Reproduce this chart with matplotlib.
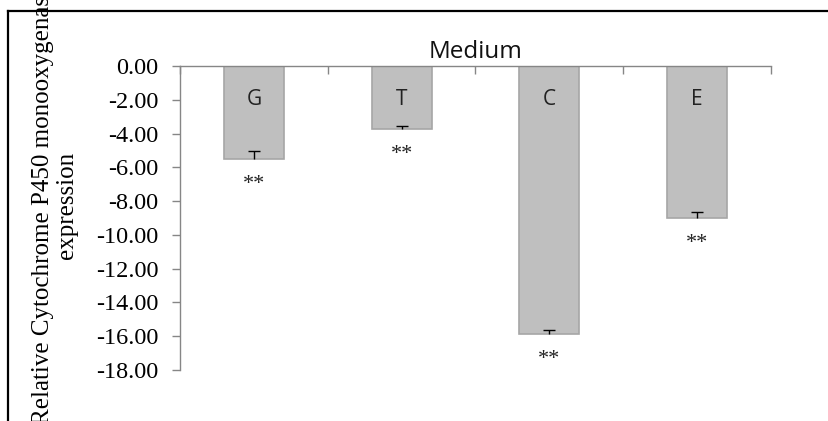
import matplotlib
matplotlib.use("Agg")
import matplotlib.pyplot as plt
from matplotlib.lines import Line2D
import numpy as np

plt.rcParams['axes.unicode_minus'] = False

# data
groups = ['G', 'T', 'C', 'E']
values = [-5.50, -3.72, -15.85, -9.00]
errors = [0.47, 0.18, 0.24, 0.35]
signif = ['**', '**', '**', '**']
yticks = [0, -2, -4, -6, -8, -10, -12, -14, -16, -18]

fig = plt.figure(figsize=(8.29, 4.21), dpi=100)
ax = fig.add_axes([180/829, 1 - 370/421, (771 - 180)/829, (370 - 66)/421])

x = np.arange(len(groups))
vals = np.array(values)
errs = np.array(errors)
ax.bar(x, vals, width=0.405, color='#bfbfbf', edgecolor='#a6a6a6', linewidth=1.2, zorder=2)

# error bars only toward zero, cap on the top end only
ax.vlines(x, vals, vals + errs, color='black', linewidth=1.0, zorder=3)
ax.hlines(vals + errs, x - 0.04, x + 0.04, color='black', linewidth=1.0, zorder=3)

for i, (v, g, s) in enumerate(zip(values, groups, signif)):
    ax.text(i, -2, g, ha='center', va='center', fontsize=15,
            family='Open Sans', color='#222222')
    ax.text(i, v - 1.5, s, ha='center', va='center', fontsize=16,
            family='Liberation Serif', color='#222222')

ax.set_xlim(-0.5, len(groups) - 0.5)
ax.set_ylim(-18, 0)

ax.set_yticks(yticks)
ax.set_yticklabels(['%.2f' % t for t in yticks], family='Liberation Serif', fontsize=17.5)
ax.tick_params(axis='y', direction='out', length=5.5, width=1.0, color='#868686', pad=10)

ax.xaxis.tick_top()
ax.set_xticks(np.arange(-0.5, len(groups), 1.0))
ax.set_xticklabels([])
ax.tick_params(axis='x', direction='in', length=6, width=1.0, color='#868686')

for side in ['right', 'bottom']:
    ax.spines[side].set_visible(False)
for side in ['left', 'top']:
    ax.spines[side].set_color('#868686')
    ax.spines[side].set_linewidth(1.0)

ax.set_title('Medium', family='Open Sans', fontsize=17.5, pad=6, color='#111111')

fig.text(55/829, 1 - 205/421, 'Relative Cytochrome P450 monooxygenase\nexpression',
         rotation=90, ha='center', va='center', multialignment='center',
         family='Liberation Serif', fontsize=18, linespacing=1.15)

# outer frame (left and top edges visible)
x0 = 8/829
y0 = 1 - 11/421
fig.add_artist(Line2D([x0, x0], [0, y0], color='black', linewidth=1.6, transform=fig.transFigure))
fig.add_artist(Line2D([x0, 1], [y0, y0], color='black', linewidth=1.6, transform=fig.transFigure))

fig.savefig('out.png', dpi=100)
